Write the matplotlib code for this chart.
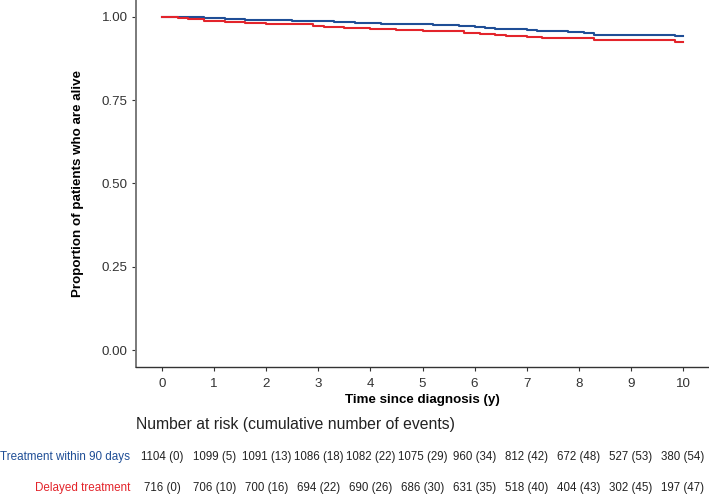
import matplotlib
matplotlib.use('Agg')
import matplotlib.pyplot as plt

plt.rcParams['font.family'] = ['Liberation Sans', 'DejaVu Sans']

# Curvas de supervivencia (tiempo en años, proporción viva)
t_pronto = [0, 0.4, 0.8, 1.2, 1.6, 2.0, 2.5, 2.9, 3.3, 3.7, 4.2, 4.7, 5.2, 5.7,
            6.0, 6.2, 6.4, 6.7, 7.0, 7.2, 7.5, 7.8, 8.1, 8.3, 9.85, 10.0]
s_pronto = [1.0, 0.998, 0.996, 0.994, 0.991, 0.989, 0.988, 0.986, 0.983, 0.981,
            0.979, 0.977, 0.975, 0.973, 0.970, 0.967, 0.964, 0.962, 0.960, 0.958,
            0.956, 0.953, 0.950, 0.945, 0.942, 0.942]

t_tarde = [0, 0.3, 0.5, 0.8, 1.2, 1.6, 2.0, 2.6, 2.9, 3.1, 3.5, 4.0, 4.5, 5.0,
           5.4, 5.8, 6.1, 6.4, 6.6, 7.0, 7.3, 8.3, 9.85, 10.0]
s_tarde = [1.0, 0.996, 0.992, 0.988, 0.985, 0.982, 0.979, 0.977, 0.972, 0.968,
           0.966, 0.963, 0.961, 0.958, 0.956, 0.952, 0.949, 0.946, 0.941, 0.939,
           0.936, 0.931, 0.923, 0.923]

# Tabla de pacientes en riesgo
anios = list(range(0, 11))
riesgo_pronto = ['1104 (0)', '1099 (5)', '1091 (13)', '1086 (18)', '1082 (22)', '1075 (29)',
                 '960 (34)', '812 (42)', '672 (48)', '527 (53)', '380 (54)']
riesgo_tarde = ['716 (0)', '706 (10)', '700 (16)', '694 (22)', '690 (26)', '686 (30)',
                '631 (35)', '518 (40)', '404 (43)', '302 (45)', '197 (47)']
etiquetas = ['Treatment within 90 days', 'Delayed treatment']
y_ticks = [0.0, 0.25, 0.50, 0.75, 1.00]

azul = '#1f4e96'
rojo = '#e3242b'

fig = plt.figure(figsize=(7.09, 4.95), dpi=100)
ax = fig.add_axes([136 / 709, 1 - 366.7 / 495, 1 - 136 / 709, 366.7 / 495])

ax.plot(t_pronto, s_pronto, drawstyle='steps-post', color=azul, lw=1.5)
ax.plot(t_tarde, s_tarde, drawstyle='steps-post', color=rojo, lw=1.5)

ax.set_xlim(-0.5, 10.5)
ax.set_ylim(-0.05, 1.05)
ax.set_xticks(anios)
ax.set_yticks(y_ticks)
ax.set_yticklabels(['%.2f' % v for v in y_ticks])
ax.tick_params(labelsize=9.6, colors='#333333', length=3, width=0.8, pad=3)
ax.tick_params(axis='x', pad=5)
for lado in ['top', 'right']:
    ax.spines[lado].set_visible(False)
ax.spines['left'].set_color('#7a7a7a')
ax.spines['left'].set_linewidth(1.4)
ax.spines['bottom'].set_color('#333333')
ax.spines['bottom'].set_linewidth(1.0)

ax.set_ylabel('Proportion of patients who are alive', fontsize=9.6, fontweight='bold', labelpad=13)
ax.set_xlabel('Time since diagnosis (y)', fontsize=9.6, fontweight='bold', labelpad=3)

# Tabla de riesgo debajo del gráfico
tr = ax.get_xaxis_transform()
fig.text(136 / 709, 1 - 424 / 495, 'Number at risk (cumulative number of events)',
         fontsize=11.3, ha='left', va='center', color='#222222')
y_fila1 = (366.7 - 457.3) / 366.7
y_fila2 = (366.7 - 488.3) / 366.7
for x, txt in zip(anios, riesgo_pronto):
    ax.text(x, y_fila1, txt, transform=tr, ha='center', va='center', fontsize=8.3,
            color='#222222', clip_on=False)
for x, txt in zip(anios, riesgo_tarde):
    ax.text(x, y_fila2, txt, transform=tr, ha='center', va='center', fontsize=8.3,
            color='#222222', clip_on=False)
fig.text(130 / 709, 1 - 457.3 / 495, etiquetas[0], fontsize=8.4, ha='right', va='center', color=azul)
fig.text(130 / 709, 1 - 488.3 / 495, etiquetas[1], fontsize=8.4, ha='right', va='center', color=rojo)

plt.savefig('out.png', dpi=100)
plt.close()
